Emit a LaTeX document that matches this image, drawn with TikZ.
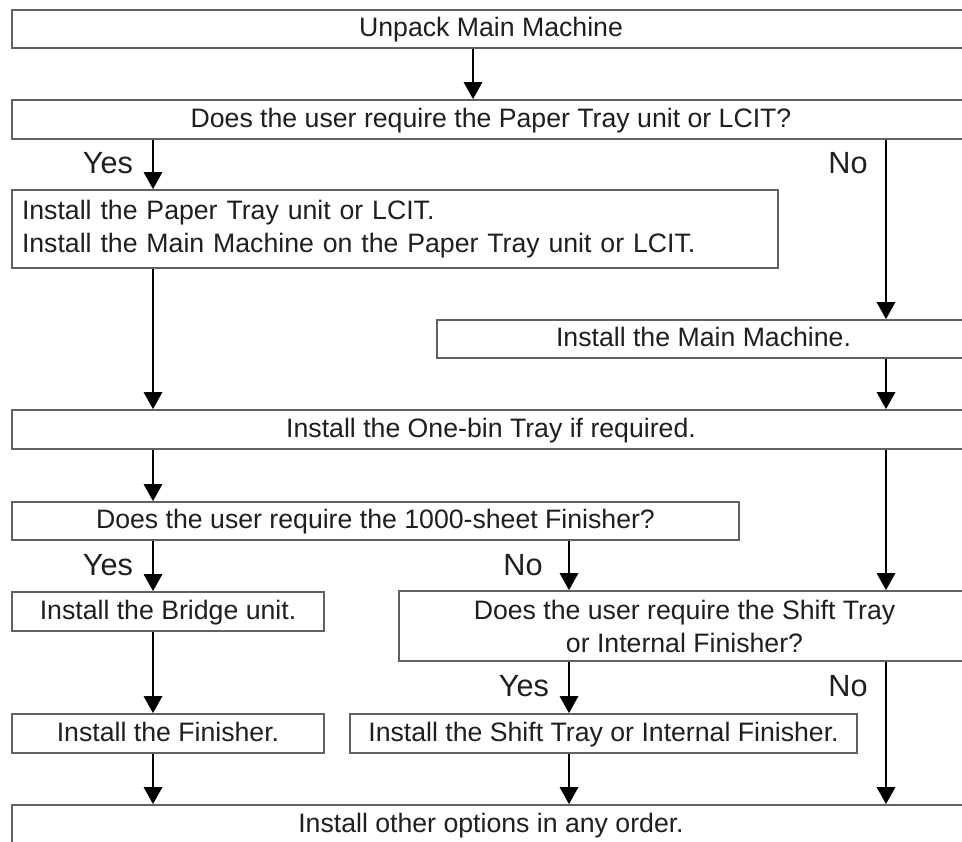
\documentclass[tikz,border=0pt]{standalone}
\usepackage{fontspec}
\setmainfont{Liberation Sans}
\usetikzlibrary{arrows.meta}
\begin{document}
\begin{tikzpicture}[x=0.75pt,y=-0.75pt,
  box/.style={draw=black!62,line width=1.2pt,text=black!88,inner sep=0pt,
    font=\fontsize{20}{24.75}\selectfont,align=center},
  one/.style={text height=15.6pt,text depth=4pt},
  arr/.style={line width=2.2pt,-{Triangle[length=12.75pt,width=13.5pt]}},
  lbl/.style={text=black!88,font=\fontsize{23}{26}\selectfont,inner sep=0pt}]
\useasboundingbox (0,0) rectangle (962,841);
\clip (0,0) rectangle (962,841);
\fill[white] (0,0) rectangle (962,841);
% columns
\coordinate (cA) at (153,0);
\coordinate (cM) at (473,0);
\coordinate (cB) at (569,0);
\coordinate (cC) at (886,0);
% boxes
\node[box,one,minimum width=718.5pt,minimum height=28.5pt] (b1) at (491,29) {Unpack Main Machine};
\node[box,one,minimum width=718.5pt,minimum height=29.25pt] (b2) at (491,119.5) {Does the user require the Paper Tray unit or LCIT?};
\node[box,minimum width=574.5pt,minimum height=58.5pt,inner xsep=7.5pt,text width=559.5pt,align=left] (b3) at (395,229) {Install the Paper Tray unit or LCIT.\\Install the Main Machine on the Paper Tray unit or LCIT.};
\node[box,one,minimum width=399.75pt,minimum height=28.5pt] (b4) at (703.5,339) {Install the Main Machine.};
\node[box,one,minimum width=718.5pt,minimum height=29.25pt] (b5) at (491,429.5) {Install the One-bin Tray if required.};
\node[box,one,minimum width=545.25pt,minimum height=28.5pt] (b6) at (375.5,521) {Does the user require the 1000-sheet Finisher?};
\node[box,one,minimum width=234pt,minimum height=29.25pt] (b7) at (168,611.5) {Install the Bridge unit.};
\node[box,minimum width=428.25pt,minimum height=52.5pt] (b8) at (684.5,626) {Does the user require the Shift Tray\\or Internal Finisher?};
\node[box,one,minimum width=234pt,minimum height=29.25pt] (b9) at (168,733.5) {Install the Finisher.};
\node[box,one,minimum width=380.25pt,minimum height=29.25pt] (b10) at (603.5,733.5) {Install the Shift Tray or Internal Finisher.};
\node[box,one,minimum width=718.5pt,minimum height=30pt] (b11) at (491,825) {Install other options in any order.};
% connectors
\draw[arr] (b1.south -| cM) -- (b2.north -| cM);
\draw[arr] (b2.south -| cA) -- (b3.north -| cA);
\draw[arr] (b2.south -| cC) -- (b4.north -| cC);
\draw[arr] (b3.south -| cA) -- (b5.north -| cA);
\draw[arr] (b4.south -| cC) -- (b5.north -| cC);
\draw[arr] (b5.south -| cA) -- (b6.north -| cA);
\draw[arr] (b5.south -| cC) -- (b8.north -| cC);
\draw[arr] (b6.south -| cA) -- (b7.north -| cA);
\draw[arr] (b6.south -| cB) -- (b8.north -| cB);
\draw[arr] (b7.south -| cA) -- (b9.north -| cA);
\draw[arr] (b8.south -| cB) -- (b10.north -| cB);
\draw[arr] (b8.south -| cC) -- (b11.north -| cC);
\draw[arr] (b9.south -| cA) -- (b11.north -| cA);
\draw[arr] (b10.south -| cB) -- (b11.north -| cB);
% labels
\node[lbl] (y1) at (108,163) {Yes};
\node[lbl] (n1) at (848,163) {No};
\node[lbl] (y2) at (108,565) {Yes};
\node[lbl] (n2) at (523,565) {No};
\node[lbl] (y3) at (524,686) {Yes};
\node[lbl] (n3) at (848,686) {No};
\end{tikzpicture}
\end{document}
